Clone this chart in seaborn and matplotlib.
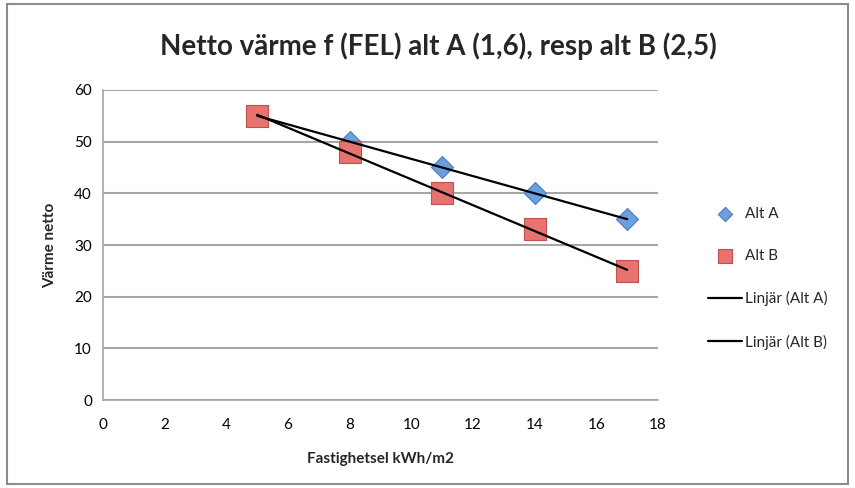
import matplotlib
matplotlib.use("Agg")
import matplotlib.pyplot as plt
import seaborn as sns
import numpy as np
import pandas as pd
from matplotlib.patches import Rectangle

x_vals = [5, 8, 11, 14, 17]
alt_a = [55, 50, 45, 40, 35]
alt_b = [55, 48, 40, 33, 25]
title = "Netto värme f (FEL) alt A (1,6), resp alt B (2,5)"
xlabel = "Fastighetsel kWh/m2"
ylabel = "Värme netto"

sns.set_theme(style="white")
plt.rcParams['font.family'] = ['Lato', 'DejaVu Sans']

fig = plt.figure(figsize=(8.55, 4.88), dpi=100)
ax = fig.add_axes([0.1205, 0.1803, 0.6491, 0.6353])

df_a = pd.DataFrame({"x": x_vals, "y": alt_a})
df_b = pd.DataFrame({"x": x_vals, "y": alt_b})

sns.scatterplot(data=df_a, x="x", y="y", ax=ax, marker="D", s=125,
                color="#6C9FDE", edgecolor="#4A7CC0", linewidth=0.8, label="Alt A", zorder=3)
sns.scatterplot(data=df_b, x="x", y="y", ax=ax, marker="s", s=230,
                color="#E8726E", edgecolor="#C0504D", linewidth=0.8, label="Alt B", zorder=3)
sns.regplot(data=df_a, x="x", y="y", ax=ax, scatter=False, ci=None, truncate=True,
            line_kws=dict(color="black", lw=1.6, zorder=4), label="Linjär (Alt A)")
sns.regplot(data=df_b, x="x", y="y", ax=ax, scatter=False, ci=None, truncate=True,
            line_kws=dict(color="black", lw=1.6, zorder=4), label="Linjär (Alt B)")

ax.set_xlim(0, 18)
ax.set_ylim(0, 60)
ax.set_xticks(range(0, 19, 2))
ax.set_yticks(range(0, 61, 10))
ax.yaxis.grid(True, color="#A6A6A6", lw=1.5)
ax.xaxis.grid(False)
for s in ["top", "right"]:
    ax.spines[s].set_visible(False)
for s in ["left", "bottom"]:
    ax.spines[s].set_color("#A6A6A6")
    ax.spines[s].set_linewidth(1.2)
ax.tick_params(axis="both", labelsize=11, colors="black", length=0, pad=8)
ax.tick_params(axis="x", length=5, color="#A6A6A6", direction="out", width=1.2)
ax.set_xlabel(xlabel, fontsize=11, fontweight="bold", labelpad=14)
ax.set_ylabel(ylabel, fontsize=11, fontweight="bold", labelpad=12)

fig.text(0.513, 0.905, title, ha="center", va="center", fontsize=20, fontweight="bold")

handles, labels = ax.get_legend_handles_labels()
if ax.legend_:
    ax.legend_.remove()
leg = fig.legend(handles, labels, loc="center left", bbox_to_anchor=(0.812, 0.43),
                 frameon=False, fontsize=11, labelspacing=1.85, handlelength=2.2,
                 handletextpad=0.25, markerscale=0.65)

fig.patches.append(Rectangle((0.008, 0.008), 0.984, 0.984, transform=fig.transFigure,
                             fill=False, edgecolor="#8C8C8C", lw=1.5))

fig.savefig("out.png", dpi=100)
